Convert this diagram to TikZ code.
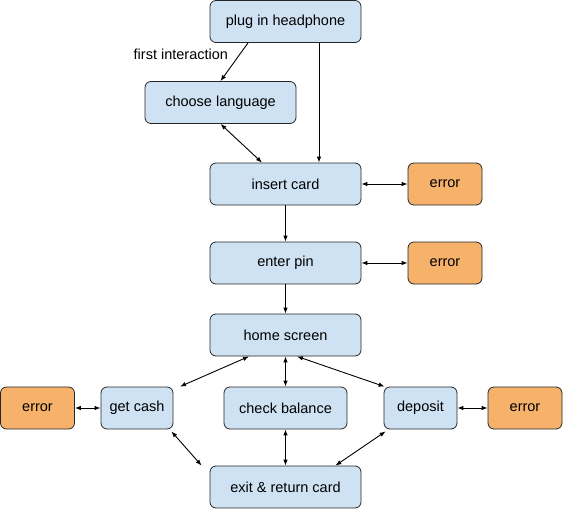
\documentclass[tikz,border=0pt]{standalone}
\usepackage{fontspec}
\setmainfont{Liberation Sans}
\usetikzlibrary{positioning,arrows.meta}

\tikzset{
  stepbox/.style={draw=black!85,fill={rgb,255:red,207;green,226;blue,243},
    rounded corners=6pt,line width=0.8pt,minimum height=42pt,inner sep=0pt,
    font=\fontsize{14.5}{17}\selectfont},
  errbox/.style={stepbox,fill={rgb,255:red,246;green,178;blue,107},minimum width=74pt},
  flow/.style={line width=0.9pt,-{Latex[length=6pt,width=4.5pt]}},
  both/.style={line width=0.9pt,{Latex[length=6pt,width=4.5pt]}-{Latex[length=6pt,width=4.5pt]}}
}

\begin{document}
\begin{tikzpicture}[x=1pt,y=-1pt]
  \useasboundingbox (0,0) rectangle (563,509);

  % main steps
  \node[stepbox,minimum width=151pt] (plug) at (285.5,21.5) {plug in headphone};
  \node[stepbox,minimum width=151pt] (lang) at (220.5,102.5) {choose language};
  \node[stepbox,minimum width=151pt] (card) at (285.5,184) {insert card};
  \node[stepbox,minimum width=151pt] (pin) at (285.5,263) {enter pin};
  \node[stepbox,minimum width=151pt] (home) at (285.5,335) {home screen};
  \node[stepbox,minimum width=72pt] (cash) at (137,408) {get cash};
  \node[stepbox,minimum width=123pt] (balance) at (285.5,408) {check balance};
  \node[stepbox,minimum width=73pt] (deposit) at (420.5,408) {deposit};
  \node[stepbox,minimum width=151pt] (exit) at (285.5,487) {exit \& return card};

  % errors
  \node[errbox] (errcard) at (445,184) {error};
  \node[errbox] (errpin) at (445,263) {error};
  \node[errbox] (errcash) at (37.5,408) {error};
  \node[errbox] (errdep) at (525,408) {error};

  % connectors
  \draw[flow] ([xshift=-37.5pt]plug.south) -- (lang.north)
    node[pos=0.3,left=8pt,font=\fontsize{14.5}{17}\selectfont] (first) {first interaction};
  \draw[flow] ([xshift=33.5pt]plug.south) -- ([xshift=33.5pt]card.north);
  \draw[both] (lang.south) -- ([xshift=-23.5pt]card.north);
  \draw[both] (card.east) -- (errcard.west);
  \draw[flow] (card.south) -- (pin.north);
  \draw[both] (pin.east) -- (errpin.west);
  \draw[flow] (pin.south) -- (home.north);
  \draw[both] ([xshift=-36.5pt]home.south) -- ([xshift=43pt]cash.north);
  \draw[both] (home.south) -- (balance.north);
  \draw[both] ([xshift=11.5pt]home.south) -- ([xshift=1pt]deposit.north west);
  \draw[both] (errcash.east) -- (cash.west);
  \draw[both] (deposit.east) -- (errdep.west);
  \draw[both] ([xshift=-2pt,yshift=-2pt]cash.south east) -- ([xshift=-8pt]exit.north west);
  \draw[both] (balance.south) -- (exit.north);
  \draw[both] ([xshift=2pt,yshift=-2pt]deposit.south west) -- ([xshift=-26pt]exit.north east);
\end{tikzpicture}
\end{document}
